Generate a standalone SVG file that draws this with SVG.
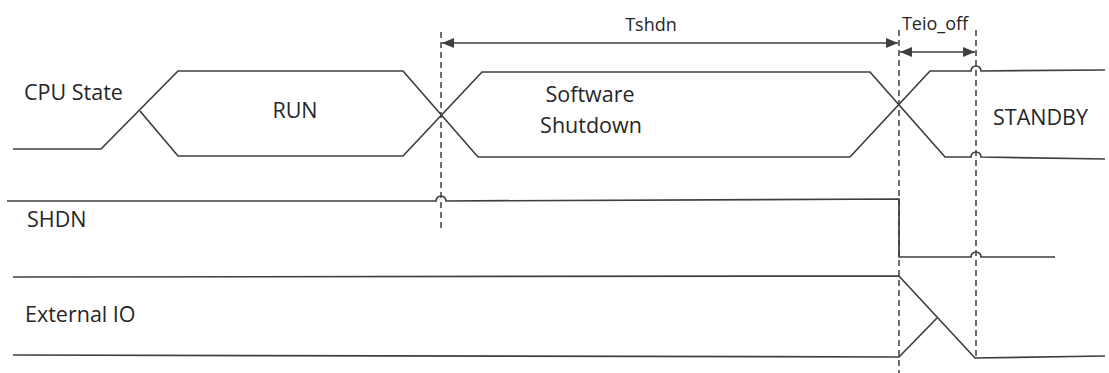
<svg xmlns="http://www.w3.org/2000/svg" width="1109" height="373" viewBox="0 0 1109 373">
<style>
.sig{fill:none;stroke:#3f3f3f;stroke-width:1.7;stroke-linejoin:miter}
.dash{fill:none;stroke:#3f3f3f;stroke-width:1.5;stroke-dasharray:6,4}
.dim{fill:none;stroke:#3f3f3f;stroke-width:1.7}
.lbl{font-family:"Open Sans","Liberation Sans",sans-serif;font-size:21.5px;fill:#262626}
.tl{font-family:"Open Sans","Liberation Sans",sans-serif;font-size:18px;fill:#262626}
</style>
<defs>
<marker id="ah" viewBox="0 0 12 10" refX="12" refY="5" markerWidth="12" markerHeight="10" markerUnits="userSpaceOnUse" orient="auto-start-reverse">
<path d="M0,0 L12,5 L0,10 Z" fill="#3f3f3f"/>
</marker>
</defs>
<g id="cpu-state">
<path class="sig" d="M13,149 L101,149 L178,71 L403,71 L478,157 L850,157 L930,71 L971,71 A5,5 0 0 1 981,71 L1105,70"/>
<path class="sig" d="M140,111 L178,156 L403,156 L482,72 L870,72 L945,157 L971,157 A5,5 0 0 1 981,157 L1105,159"/>
<text class="lbl" x="24" y="100">CPU State</text>
<text class="lbl" x="295" y="118" text-anchor="middle">RUN</text>
<text class="lbl" x="590" y="102" text-anchor="middle">Software</text>
<text class="lbl" x="591" y="133" text-anchor="middle">Shutdown</text>
<text class="lbl" x="993" y="125">STANDBY</text>
</g>
<g id="shdn">
<path class="sig" d="M7,201 L436,201 A5,5 0 0 1 446,201 L899,199 L899,257 L971,257 A5,5 0 0 1 981,257 L1055,257"/>
<text class="lbl" x="27" y="227">SHDN</text>
</g>
<g id="external-io">
<path class="sig" d="M13,277 L899,276 L975,358 L1105,356"/>
<path class="sig" d="M13,355 L899,357 L937,318"/>
<text class="lbl" x="25" y="322">External IO</text>
</g>
<g id="connectors">
<line class="dash" x1="441" y1="32" x2="441" y2="228"/>
<line class="dash" x1="899" y1="30" x2="899" y2="373"/>
<line class="dash" x1="976" y1="30" x2="976" y2="360"/>
<line class="dim" x1="442" y1="43" x2="898" y2="43" marker-start="url(#ah)" marker-end="url(#ah)"/>
<line class="dim" x1="900" y1="52" x2="975" y2="52" marker-start="url(#ah)" marker-end="url(#ah)"/>
<text class="tl" x="651" y="31" text-anchor="middle">Tshdn</text>
<text class="tl" x="935" y="30" text-anchor="middle">Teio_off</text>
</g>
</svg>
